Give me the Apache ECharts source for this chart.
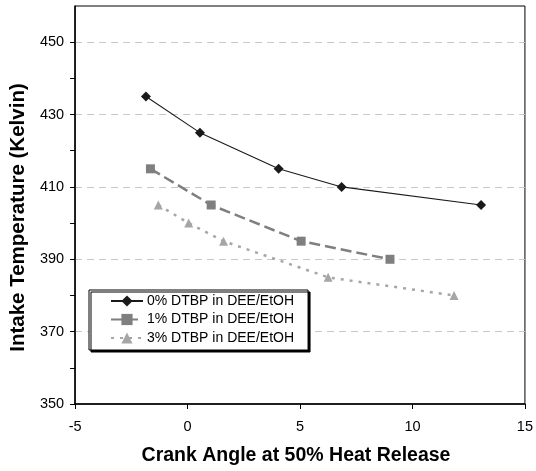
<!DOCTYPE html>
<html><head><meta charset="utf-8">
<script src="https://cdn.jsdelivr.net/npm/echarts@6/dist/echarts.min.js"></script>
<style>html,body{margin:0;padding:0;background:#fff}#c{width:536px;height:471px}</style>
</head><body><div id="c"></div>
<script>
var seriesNames = ['0% DTBP in DEE/EtOH', '1% DTBP in DEE/EtOH', '3% DTBP in DEE/EtOH'];
var s0x = [-1.85, 0.55, 4.05, 6.85, 13.05];
var s0y = [435, 425, 415, 410, 405];
var s1x = [-1.65, 1.05, 5.05, 9.0];
var s1y = [415, 405, 395, 390];
var s2x = [-1.3, 0.05, 1.6, 6.25, 11.85];
var s2y = [405, 400, 395, 385, 380];
var xTitle = 'Crank Angle at 50% Heat Release';
var yTitle = 'Intake Temperature (Kelvin)';

function pts(xs, ys){ return xs.map(function(x,i){ return [x, ys[i]]; }); }
var F = 'Liberation Sans, Arial, sans-serif';
var chart = echarts.init(document.getElementById('c'), null, {renderer:'canvas'});
chart.setOption({
  animation:false,
  backgroundColor:'#fff',
  grid:{left:75, right:11, top:6, bottom:63, show:true, borderColor:'#000', borderWidth:1, backgroundColor:'transparent'},
  xAxis:{type:'value', min:-5, max:15, interval:5,
    name:xTitle, nameLocation:'middle', nameGap:42,
    nameTextStyle:{fontFamily:F, fontSize:19.5, fontWeight:'bold', color:'#000', padding:[0,8,0,0]},
    axisLine:{onZero:false, lineStyle:{color:'#000', width:1.5}},
    axisTick:{length:5, lineStyle:{color:'#000'}},
    axisLabel:{fontFamily:F, fontSize:14.5, color:'#000', margin:15},
    splitLine:{show:false}},
  yAxis:[{type:'value', min:350, max:460, interval:10,
    name:yTitle, nameLocation:'middle', nameGap:42,
    nameTextStyle:{fontFamily:F, fontSize:20.5, fontWeight:'bold', color:'#000', padding:[0,25,0,0]},
    axisLine:{onZero:false, lineStyle:{color:'#000', width:1.5}},
    axisTick:{length:5, lineStyle:{color:'#000'}},
    axisLabel:{fontFamily:F, fontSize:14.5, color:'#000', margin:11, showMaxLabel:false,
      formatter:function(v){ return (v-350)%20===0 && v<460 ? String(v) : ''; }},
    splitLine:{show:false}},
   {type:'value', min:350, max:460, interval:20, position:'left',
    axisLine:{show:false, onZero:false}, axisTick:{show:false}, axisLabel:{show:false},
    splitLine:{show:true, showMinLine:false, showMaxLine:false, lineStyle:{color:'#c8c8c8', type:[7,5], width:1}}}
  ],
  legend:{orient:'vertical', left:89, top:290,
    backgroundColor:'#fff', borderColor:'#000', borderWidth:1,
    shadowColor:'#000', shadowOffsetX:2, shadowOffsetY:2, shadowBlur:0,
    padding:[4,14,5,21], itemGap:4.5, itemWidth:32, itemHeight:14,
    textStyle:{fontFamily:F, fontSize:14, color:'#000', padding:[0,0,0,-1]},
    data:seriesNames},
  series:[
    {name:seriesNames[0], type:'line', data:pts(s0x,s0y), symbol:'diamond', symbolSize:10,
     lineStyle:{color:'#1a1a1a', width:1.1}, itemStyle:{color:'#1a1a1a'}},
    {name:seriesNames[1], type:'line', data:pts(s1x,s1y), symbol:'rect', symbolSize:9,
     lineStyle:{color:'#7f7f7f', width:2.5, type:[11,5]}, itemStyle:{color:'#7f7f7f'}},
    {name:seriesNames[2], type:'line', data:pts(s2x,s2y), symbol:'triangle', symbolSize:9,
     lineStyle:{color:'#a6a6a6', width:2.5, type:[3,6]}, itemStyle:{color:'#a6a6a6'}}
  ]
});
</script></body></html>
